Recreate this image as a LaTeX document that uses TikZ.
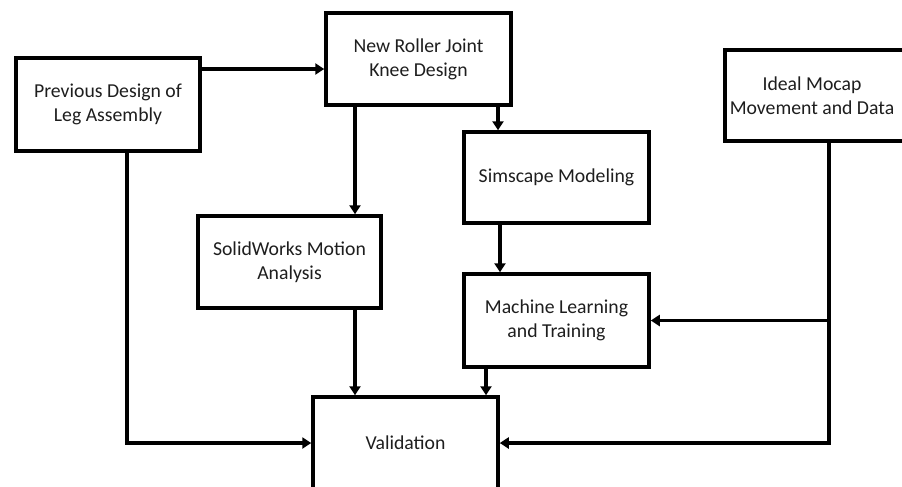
\documentclass[tikz,border=0pt]{standalone}
\usepackage{fontspec}
\setmainfont{Carlito}
\usetikzlibrary{arrows.meta}
\definecolor{ink}{RGB}{30,30,30}
\def\pu{0.75pt}
\tikzset{
  box/.style={draw=black, line width=3.5*\pu, rectangle, inner sep=0pt,
    minimum width=185*\pu, minimum height=92*\pu, align=center,
    text=ink, font=\fontsize{14.8}{18}\selectfont},
  txt/.style={inner sep=0pt, align=center, text=ink, font=\fontsize{14.8}{18}\selectfont},
  arr/.style={draw=black, line width=3.5*\pu, -{Triangle[length=9*\pu, width=11*\pu]}},
  link/.style={draw=black, line width=3.5*\pu}
}
\begin{document}
\begin{tikzpicture}[x=\pu, y=-\pu]
  \useasboundingbox (0,0) rectangle (902,486);
  \clip (0,0) rectangle (902,486);
  \fill[white] (0,0) rectangle (902,486);

  % process boxes
  \node[box, minimum width=184*\pu, minimum height=93*\pu] (prev) at (108,104.5) {Previous Design of\\Leg Assembly};
  \node[box] (knee) at (418.5,59) {New Roller Joint\\Knee Design};
  \node[box, minimum width=183*\pu] (solid) at (289.5,262) {SolidWorks Motion\\Analysis};
  \node[box, minimum height=91*\pu] (sims) at (556.5,177.5) {Simscape Modeling};
  \node[box, minimum height=93*\pu] (ml) at (556.5,320.5) {Machine Learning\\and Training};
  \node[box, minimum width=205*\pu, minimum height=91*\pu] (mocap) at (827.5,95.5) {};
  \node[txt] (mocaptext) at (812,95.5) {Ideal Mocap\\Movement and Data};
  \node[box] (valid) at (405.5,443) {Validation};

  % routing columns and rows
  \coordinate (r1) at (0,69);
  \coordinate (c1) at (355,0);
  \coordinate (c2) at (498,0);
  \coordinate (c3) at (500,0);
  \coordinate (c4) at (486,0);
  \coordinate (c5) at (127,0);
  \coordinate (c6) at (829,0);
  \coordinate (split) at (c6 |- ml.east);

  % connectors
  \draw[arr] (prev.east |- r1) -- (knee.west |- r1);
  \draw[arr] (knee.south -| c1) -- (solid.north -| c1);
  \draw[arr] (knee.south -| c2) -- (sims.north -| c2);
  \draw[arr] (sims.south -| c3) -- (ml.north -| c3);
  \draw[arr] (ml.south -| c4) -- (valid.north -| c4);
  \draw[arr] (solid.south -| c1) -- (valid.north -| c1);
  \draw[arr] (prev.south -| c5) |- (valid.west);
  \draw[arr] (mocap.south -| c6) |- (valid.east);
  \draw[arr] (split) -- (ml.east);
\end{tikzpicture}
\end{document}
